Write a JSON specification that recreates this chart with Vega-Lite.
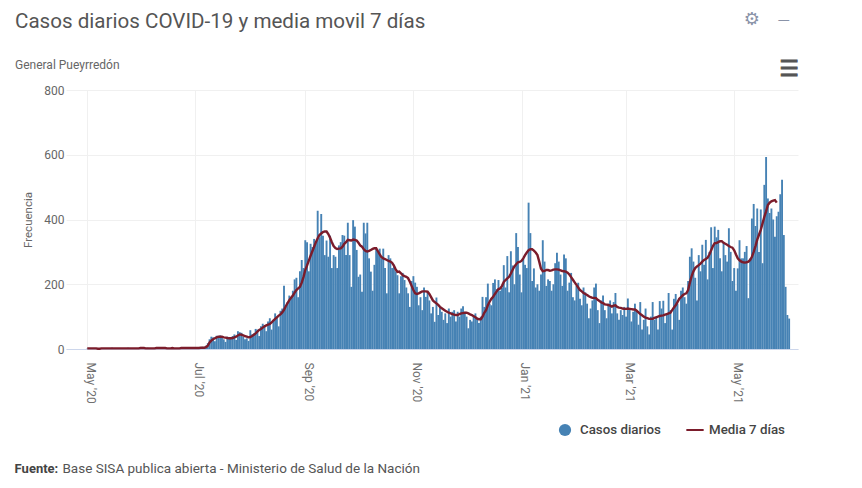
{
  "$schema": "https://vega.github.io/schema/vega-lite/v6.json",
  "autosize": {"type": "none"},
  "width": 732,
  "height": 259,
  "padding": {"left": 66, "top": 90, "right": 64, "bottom": 139},
  "background": "white",
  "title": {
    "text": "Casos diarios COVID-19 y media movil 7 días",
    "subtitle": "General Pueyrredón",
    "anchor": "start",
    "frame": "group",
    "dx": -51,
    "dy": 78,
    "offset": 18,
    "font": "Roboto",
    "fontSize": 20.6,
    "fontWeight": "normal",
    "color": "#555555",
    "subtitleFont": "Roboto",
    "subtitleFontSize": 12,
    "subtitleColor": "#666666",
    "subtitlePadding": 27
  },
  "config": {"view": {"stroke": null}, "font": "Roboto"},
  "data": {"values": [
    {"fecha":"2020-05-01","casos":1,"media":2},{"fecha":"2020-05-02","casos":0,"media":2},{"fecha":"2020-05-03","casos":2,"media":2},{"fecha":"2020-05-04","casos":1,"media":2},{"fecha":"2020-05-05","casos":3,"media":2},{"fecha":"2020-05-06","casos":1,"media":2},{"fecha":"2020-05-07","casos":0,"media":1},
    {"fecha":"2020-05-08","casos":2,"media":1},{"fecha":"2020-05-09","casos":3,"media":2},{"fecha":"2020-05-10","casos":1,"media":2},{"fecha":"2020-05-11","casos":2,"media":2},{"fecha":"2020-05-12","casos":1,"media":2},{"fecha":"2020-05-13","casos":0,"media":2},{"fecha":"2020-05-14","casos":1,"media":2},
    {"fecha":"2020-05-15","casos":4,"media":2},{"fecha":"2020-05-16","casos":2,"media":2},{"fecha":"2020-05-17","casos":3,"media":2},{"fecha":"2020-05-18","casos":1,"media":2},{"fecha":"2020-05-19","casos":0,"media":2},{"fecha":"2020-05-20","casos":2,"media":2},{"fecha":"2020-05-21","casos":1,"media":2},
    {"fecha":"2020-05-22","casos":3,"media":2},{"fecha":"2020-05-23","casos":2,"media":2},{"fecha":"2020-05-24","casos":4,"media":2},{"fecha":"2020-05-25","casos":1,"media":2},{"fecha":"2020-05-26","casos":0,"media":2},{"fecha":"2020-05-27","casos":2,"media":2},{"fecha":"2020-05-28","casos":3,"media":2},
    {"fecha":"2020-05-29","casos":1,"media":2},{"fecha":"2020-05-30","casos":2,"media":2},{"fecha":"2020-05-31","casos":4,"media":3},
    {"fecha":"2020-06-01","casos":3,"media":3},{"fecha":"2020-06-02","casos":2,"media":3},{"fecha":"2020-06-03","casos":1,"media":2},{"fecha":"2020-06-04","casos":4,"media":2},{"fecha":"2020-06-05","casos":2,"media":2},{"fecha":"2020-06-06","casos":0,"media":2},{"fecha":"2020-06-07","casos":3,"media":2},
    {"fecha":"2020-06-08","casos":2,"media":2},{"fecha":"2020-06-09","casos":5,"media":3},{"fecha":"2020-06-10","casos":3,"media":3},{"fecha":"2020-06-11","casos":1,"media":3},{"fecha":"2020-06-12","casos":2,"media":3},{"fecha":"2020-06-13","casos":4,"media":3},{"fecha":"2020-06-14","casos":2,"media":3},
    {"fecha":"2020-06-15","casos":1,"media":2},{"fecha":"2020-06-16","casos":3,"media":2},{"fecha":"2020-06-17","casos":2,"media":2},{"fecha":"2020-06-18","casos":4,"media":3},{"fecha":"2020-06-19","casos":1,"media":2},{"fecha":"2020-06-20","casos":0,"media":2},{"fecha":"2020-06-21","casos":3,"media":2},
    {"fecha":"2020-06-22","casos":2,"media":2},{"fecha":"2020-06-23","casos":5,"media":3},{"fecha":"2020-06-24","casos":3,"media":3},{"fecha":"2020-06-25","casos":1,"media":3},{"fecha":"2020-06-26","casos":4,"media":3},{"fecha":"2020-06-27","casos":2,"media":3},{"fecha":"2020-06-28","casos":6,"media":3},
    {"fecha":"2020-06-29","casos":3,"media":3},{"fecha":"2020-06-30","casos":2,"media":3},
    {"fecha":"2020-07-01","casos":4,"media":3},{"fecha":"2020-07-02","casos":3,"media":3},{"fecha":"2020-07-03","casos":2,"media":3},{"fecha":"2020-07-04","casos":5,"media":4},{"fecha":"2020-07-05","casos":7,"media":4},{"fecha":"2020-07-06","casos":5,"media":4},{"fecha":"2020-07-07","casos":10,"media":6},
    {"fecha":"2020-07-08","casos":18,"media":10},{"fecha":"2020-07-09","casos":30,"media":20},{"fecha":"2020-07-10","casos":38,"media":26},{"fecha":"2020-07-11","casos":36,"media":30},{"fecha":"2020-07-12","casos":24,"media":33},{"fecha":"2020-07-13","casos":41,"media":36},{"fecha":"2020-07-14","casos":40,"media":38},
    {"fecha":"2020-07-15","casos":42,"media":38},{"fecha":"2020-07-16","casos":35,"media":38},{"fecha":"2020-07-17","casos":30,"media":36},{"fecha":"2020-07-18","casos":22,"media":35},{"fecha":"2020-07-19","casos":38,"media":34},{"fecha":"2020-07-20","casos":35,"media":33},{"fecha":"2020-07-21","casos":32,"media":33},
    {"fecha":"2020-07-22","casos":40,"media":34},{"fecha":"2020-07-23","casos":45,"media":36},{"fecha":"2020-07-24","casos":28,"media":38},{"fecha":"2020-07-25","casos":55,"media":42},{"fecha":"2020-07-26","casos":52,"media":45},{"fecha":"2020-07-27","casos":50,"media":44},{"fecha":"2020-07-28","casos":38,"media":42},
    {"fecha":"2020-07-29","casos":30,"media":40},{"fecha":"2020-07-30","casos":33,"media":38},{"fecha":"2020-07-31","casos":25,"media":36},
    {"fecha":"2020-08-01","casos":58,"media":37},{"fecha":"2020-08-02","casos":45,"media":40},{"fecha":"2020-08-03","casos":48,"media":44},{"fecha":"2020-08-04","casos":62,"media":48},{"fecha":"2020-08-05","casos":60,"media":54},{"fecha":"2020-08-06","casos":40,"media":59},{"fecha":"2020-08-07","casos":70,"media":62},
    {"fecha":"2020-08-08","casos":78,"media":66},{"fecha":"2020-08-09","casos":72,"media":70},{"fecha":"2020-08-10","casos":55,"media":73},{"fecha":"2020-08-11","casos":85,"media":75},{"fecha":"2020-08-12","casos":95,"media":77},{"fecha":"2020-08-13","casos":60,"media":82},{"fecha":"2020-08-14","casos":90,"media":88},
    {"fecha":"2020-08-15","casos":110,"media":93},{"fecha":"2020-08-16","casos":100,"media":98},{"fecha":"2020-08-17","casos":70,"media":103},{"fecha":"2020-08-18","casos":118,"media":107},{"fecha":"2020-08-19","casos":125,"media":113},{"fecha":"2020-08-20","casos":195,"media":121},{"fecha":"2020-08-21","casos":130,"media":132},
    {"fecha":"2020-08-22","casos":145,"media":142},{"fecha":"2020-08-23","casos":165,"media":151},{"fecha":"2020-08-24","casos":160,"media":158},{"fecha":"2020-08-25","casos":180,"media":165},{"fecha":"2020-08-26","casos":215,"media":174},{"fecha":"2020-08-27","casos":220,"media":182},{"fecha":"2020-08-28","casos":160,"media":187},
    {"fecha":"2020-08-29","casos":240,"media":192},{"fecha":"2020-08-30","casos":275,"media":205},{"fecha":"2020-08-31","casos":250,"media":222},
    {"fecha":"2020-09-01","casos":336,"media":244},{"fecha":"2020-09-02","casos":330,"media":258},{"fecha":"2020-09-03","casos":240,"media":273},{"fecha":"2020-09-04","casos":325,"media":288},{"fecha":"2020-09-05","casos":315,"media":302},{"fecha":"2020-09-06","casos":340,"media":316},{"fecha":"2020-09-07","casos":330,"media":330},
    {"fecha":"2020-09-08","casos":427,"media":342},{"fecha":"2020-09-09","casos":345,"media":352},{"fecha":"2020-09-10","casos":417,"media":357},{"fecha":"2020-09-11","casos":350,"media":361},{"fecha":"2020-09-12","casos":290,"media":363},{"fecha":"2020-09-13","casos":335,"media":363},{"fecha":"2020-09-14","casos":285,"media":355},
    {"fecha":"2020-09-15","casos":350,"media":344},{"fecha":"2020-09-16","casos":250,"media":330},{"fecha":"2020-09-17","casos":290,"media":318},{"fecha":"2020-09-18","casos":285,"media":312},{"fecha":"2020-09-19","casos":250,"media":309},{"fecha":"2020-09-20","casos":320,"media":310},{"fecha":"2020-09-21","casos":330,"media":311},
    {"fecha":"2020-09-22","casos":352,"media":316},{"fecha":"2020-09-23","casos":350,"media":325},{"fecha":"2020-09-24","casos":290,"media":330},{"fecha":"2020-09-25","casos":390,"media":337},{"fecha":"2020-09-26","casos":290,"media":336},{"fecha":"2020-09-27","casos":192,"media":335},{"fecha":"2020-09-28","casos":398,"media":338},
    {"fecha":"2020-09-29","casos":378,"media":337},{"fecha":"2020-09-30","casos":306,"media":335},
    {"fecha":"2020-10-01","casos":223,"media":328},{"fecha":"2020-10-02","casos":230,"media":320},{"fecha":"2020-10-03","casos":177,"media":316},{"fecha":"2020-10-04","casos":390,"media":308},{"fecha":"2020-10-05","casos":357,"media":303},{"fecha":"2020-10-06","casos":390,"media":301},{"fecha":"2020-10-07","casos":280,"media":303},
    {"fecha":"2020-10-08","casos":239,"media":306},{"fecha":"2020-10-09","casos":180,"media":309},{"fecha":"2020-10-10","casos":260,"media":311},{"fecha":"2020-10-11","casos":310,"media":311},{"fecha":"2020-10-12","casos":300,"media":302},{"fecha":"2020-10-13","casos":310,"media":292},{"fecha":"2020-10-14","casos":280,"media":284},
    {"fecha":"2020-10-15","casos":310,"media":280},{"fecha":"2020-10-16","casos":250,"media":278},{"fecha":"2020-10-17","casos":172,"media":275},{"fecha":"2020-10-18","casos":290,"media":272},{"fecha":"2020-10-19","casos":280,"media":270},{"fecha":"2020-10-20","casos":250,"media":266},{"fecha":"2020-10-21","casos":260,"media":258},
    {"fecha":"2020-10-22","casos":240,"media":246},{"fecha":"2020-10-23","casos":228,"media":238},{"fecha":"2020-10-24","casos":172,"media":239},{"fecha":"2020-10-25","casos":225,"media":234},{"fecha":"2020-10-26","casos":235,"media":228},{"fecha":"2020-10-27","casos":213,"media":225},{"fecha":"2020-10-28","casos":190,"media":223},
    {"fecha":"2020-10-29","casos":172,"media":219},{"fecha":"2020-10-30","casos":130,"media":208},{"fecha":"2020-10-31","casos":210,"media":195},
    {"fecha":"2020-11-01","casos":225,"media":182},{"fecha":"2020-11-02","casos":205,"media":172},{"fecha":"2020-11-03","casos":192,"media":170},{"fecha":"2020-11-04","casos":135,"media":172},{"fecha":"2020-11-05","casos":160,"media":175},{"fecha":"2020-11-06","casos":120,"media":178},{"fecha":"2020-11-07","casos":190,"media":178},
    {"fecha":"2020-11-08","casos":161,"media":178},{"fecha":"2020-11-09","casos":175,"media":177},{"fecha":"2020-11-10","casos":150,"media":170},{"fecha":"2020-11-11","casos":110,"media":160},{"fecha":"2020-11-12","casos":130,"media":150},{"fecha":"2020-11-13","casos":84,"media":145},{"fecha":"2020-11-14","casos":159,"media":141},
    {"fecha":"2020-11-15","casos":105,"media":136},{"fecha":"2020-11-16","casos":130,"media":130},{"fecha":"2020-11-17","casos":115,"media":126},{"fecha":"2020-11-18","casos":90,"media":122},{"fecha":"2020-11-19","casos":110,"media":118},{"fecha":"2020-11-20","casos":80,"media":115},{"fecha":"2020-11-21","casos":125,"media":112},
    {"fecha":"2020-11-22","casos":100,"media":110},{"fecha":"2020-11-23","casos":115,"media":108},{"fecha":"2020-11-24","casos":120,"media":106},{"fecha":"2020-11-25","casos":85,"media":105},{"fecha":"2020-11-26","casos":115,"media":105},{"fecha":"2020-11-27","casos":100,"media":108},{"fecha":"2020-11-28","casos":125,"media":110},
    {"fecha":"2020-11-29","casos":132,"media":111},{"fecha":"2020-11-30","casos":115,"media":112},
    {"fecha":"2020-12-01","casos":100,"media":112},{"fecha":"2020-12-02","casos":64,"media":110},{"fecha":"2020-12-03","casos":90,"media":107},{"fecha":"2020-12-04","casos":85,"media":105},{"fecha":"2020-12-05","casos":105,"media":101},{"fecha":"2020-12-06","casos":110,"media":98},{"fecha":"2020-12-07","casos":95,"media":94},
    {"fecha":"2020-12-08","casos":80,"media":92},{"fecha":"2020-12-09","casos":100,"media":92},{"fecha":"2020-12-10","casos":161,"media":100},{"fecha":"2020-12-11","casos":130,"media":112},{"fecha":"2020-12-12","casos":160,"media":120},{"fecha":"2020-12-13","casos":202,"media":135},{"fecha":"2020-12-14","casos":140,"media":146},
    {"fecha":"2020-12-15","casos":135,"media":155},{"fecha":"2020-12-16","casos":204,"media":161},{"fecha":"2020-12-17","casos":215,"media":170},{"fecha":"2020-12-18","casos":185,"media":178},{"fecha":"2020-12-19","casos":213,"media":185},{"fecha":"2020-12-20","casos":180,"media":187},{"fecha":"2020-12-21","casos":190,"media":195},
    {"fecha":"2020-12-22","casos":259,"media":207},{"fecha":"2020-12-23","casos":190,"media":213},{"fecha":"2020-12-24","casos":287,"media":218},{"fecha":"2020-12-25","casos":175,"media":223},{"fecha":"2020-12-26","casos":302,"media":233},{"fecha":"2020-12-27","casos":258,"media":245},{"fecha":"2020-12-28","casos":200,"media":255},
    {"fecha":"2020-12-29","casos":358,"media":262},{"fecha":"2020-12-30","casos":315,"media":268},{"fecha":"2020-12-31","casos":230,"media":269},
    {"fecha":"2021-01-01","casos":175,"media":272},{"fecha":"2021-01-02","casos":280,"media":280},{"fecha":"2021-01-03","casos":260,"media":290},{"fecha":"2021-01-04","casos":250,"media":298},{"fecha":"2021-01-05","casos":452,"media":305},{"fecha":"2021-01-06","casos":358,"media":308},{"fecha":"2021-01-07","casos":210,"media":308},
    {"fecha":"2021-01-08","casos":249,"media":304},{"fecha":"2021-01-09","casos":190,"media":298},{"fecha":"2021-01-10","casos":200,"media":290},{"fecha":"2021-01-11","casos":180,"media":270},{"fecha":"2021-01-12","casos":230,"media":248},{"fecha":"2021-01-13","casos":336,"media":240},{"fecha":"2021-01-14","casos":270,"media":241},
    {"fecha":"2021-01-15","casos":195,"media":244},{"fecha":"2021-01-16","casos":215,"media":244},{"fecha":"2021-01-17","casos":210,"media":242},{"fecha":"2021-01-18","casos":180,"media":243},{"fecha":"2021-01-19","casos":200,"media":245},{"fecha":"2021-01-20","casos":265,"media":246},{"fecha":"2021-01-21","casos":297,"media":246},
    {"fecha":"2021-01-22","casos":270,"media":245},{"fecha":"2021-01-23","casos":230,"media":243},{"fecha":"2021-01-24","casos":195,"media":241},{"fecha":"2021-01-25","casos":292,"media":240},{"fecha":"2021-01-26","casos":280,"media":239},{"fecha":"2021-01-27","casos":180,"media":236},{"fecha":"2021-01-28","casos":205,"media":230},
    {"fecha":"2021-01-29","casos":235,"media":222},{"fecha":"2021-01-30","casos":160,"media":214},{"fecha":"2021-01-31","casos":150,"media":206},
    {"fecha":"2021-02-01","casos":195,"media":198},{"fecha":"2021-02-02","casos":205,"media":190},{"fecha":"2021-02-03","casos":155,"media":182},{"fecha":"2021-02-04","casos":135,"media":178},{"fecha":"2021-02-05","casos":190,"media":173},{"fecha":"2021-02-06","casos":175,"media":170},{"fecha":"2021-02-07","casos":140,"media":167},
    {"fecha":"2021-02-08","casos":95,"media":163},{"fecha":"2021-02-09","casos":125,"media":160},{"fecha":"2021-02-10","casos":150,"media":158},{"fecha":"2021-02-11","casos":190,"media":158},{"fecha":"2021-02-12","casos":202,"media":157},{"fecha":"2021-02-13","casos":120,"media":152},{"fecha":"2021-02-14","casos":80,"media":148},
    {"fecha":"2021-02-15","casos":150,"media":144},{"fecha":"2021-02-16","casos":165,"media":142},{"fecha":"2021-02-17","casos":120,"media":138},{"fecha":"2021-02-18","casos":95,"media":137},{"fecha":"2021-02-19","casos":140,"media":136},{"fecha":"2021-02-20","casos":150,"media":134},{"fecha":"2021-02-21","casos":110,"media":131},
    {"fecha":"2021-02-22","casos":145,"media":134},{"fecha":"2021-02-23","casos":173,"media":135},{"fecha":"2021-02-24","casos":110,"media":130},{"fecha":"2021-02-25","casos":90,"media":128},{"fecha":"2021-02-26","casos":120,"media":127},{"fecha":"2021-02-27","casos":105,"media":125},{"fecha":"2021-02-28","casos":130,"media":124},
    {"fecha":"2021-03-01","casos":100,"media":124},{"fecha":"2021-03-02","casos":156,"media":125},{"fecha":"2021-03-03","casos":125,"media":124},{"fecha":"2021-03-04","casos":85,"media":123},{"fecha":"2021-03-05","casos":115,"media":122},{"fecha":"2021-03-06","casos":140,"media":122},{"fecha":"2021-03-07","casos":120,"media":118},
    {"fecha":"2021-03-08","casos":75,"media":113},{"fecha":"2021-03-09","casos":145,"media":108},{"fecha":"2021-03-10","casos":60,"media":104},{"fecha":"2021-03-11","casos":90,"media":100},{"fecha":"2021-03-12","casos":125,"media":97},{"fecha":"2021-03-13","casos":70,"media":95},{"fecha":"2021-03-14","casos":45,"media":93},
    {"fecha":"2021-03-15","casos":100,"media":93},{"fecha":"2021-03-16","casos":145,"media":93},{"fecha":"2021-03-17","casos":90,"media":96},{"fecha":"2021-03-18","casos":100,"media":98},{"fecha":"2021-03-19","casos":60,"media":100},{"fecha":"2021-03-20","casos":148,"media":102},{"fecha":"2021-03-21","casos":125,"media":103},
    {"fecha":"2021-03-22","casos":149,"media":104},{"fecha":"2021-03-23","casos":80,"media":106},{"fecha":"2021-03-24","casos":110,"media":108},{"fecha":"2021-03-25","casos":173,"media":110},{"fecha":"2021-03-26","casos":120,"media":112},{"fecha":"2021-03-27","casos":60,"media":120},{"fecha":"2021-03-28","casos":155,"media":128},
    {"fecha":"2021-03-29","casos":170,"media":135},{"fecha":"2021-03-30","casos":140,"media":145},{"fecha":"2021-03-31","casos":90,"media":155},
    {"fecha":"2021-04-01","casos":180,"media":160},{"fecha":"2021-04-02","casos":190,"media":166},{"fecha":"2021-04-03","casos":160,"media":170},{"fecha":"2021-04-04","casos":140,"media":172},{"fecha":"2021-04-05","casos":210,"media":182},{"fecha":"2021-04-06","casos":285,"media":205},{"fecha":"2021-04-07","casos":311,"media":225},
    {"fecha":"2021-04-08","casos":270,"media":240},{"fecha":"2021-04-09","casos":220,"media":250},{"fecha":"2021-04-10","casos":150,"media":255},{"fecha":"2021-04-11","casos":290,"media":259},{"fecha":"2021-04-12","casos":240,"media":264},{"fecha":"2021-04-13","casos":322,"media":270},{"fecha":"2021-04-14","casos":260,"media":275},
    {"fecha":"2021-04-15","casos":337,"media":278},{"fecha":"2021-04-16","casos":215,"media":282},{"fecha":"2021-04-17","casos":300,"media":292},{"fecha":"2021-04-18","casos":376,"media":305},{"fecha":"2021-04-19","casos":250,"media":318},{"fecha":"2021-04-20","casos":378,"media":327},{"fecha":"2021-04-21","casos":345,"media":327},
    {"fecha":"2021-04-22","casos":368,"media":330},{"fecha":"2021-04-23","casos":280,"media":333},{"fecha":"2021-04-24","casos":240,"media":333},{"fecha":"2021-04-25","casos":330,"media":328},{"fecha":"2021-04-26","casos":290,"media":325},{"fecha":"2021-04-27","casos":270,"media":322},{"fecha":"2021-04-28","casos":373,"media":318},
    {"fecha":"2021-04-29","casos":300,"media":315},{"fecha":"2021-04-30","casos":210,"media":313},
    {"fecha":"2021-05-01","casos":250,"media":305},{"fecha":"2021-05-02","casos":180,"media":292},{"fecha":"2021-05-03","casos":249,"media":280},{"fecha":"2021-05-04","casos":336,"media":274},{"fecha":"2021-05-05","casos":280,"media":270},{"fecha":"2021-05-06","casos":280,"media":268},{"fecha":"2021-05-07","casos":300,"media":267},
    {"fecha":"2021-05-08","casos":318,"media":268},{"fecha":"2021-05-09","casos":157,"media":270},{"fecha":"2021-05-10","casos":280,"media":275},{"fecha":"2021-05-11","casos":403,"media":285},{"fecha":"2021-05-12","casos":448,"media":300},{"fecha":"2021-05-13","casos":380,"media":318},{"fecha":"2021-05-14","casos":434,"media":338},
    {"fecha":"2021-05-15","casos":300,"media":353},{"fecha":"2021-05-16","casos":431,"media":368},{"fecha":"2021-05-17","casos":265,"media":388},{"fecha":"2021-05-18","casos":507,"media":408},{"fecha":"2021-05-19","casos":593,"media":425},{"fecha":"2021-05-20","casos":465,"media":445},{"fecha":"2021-05-21","casos":420,"media":452},
    {"fecha":"2021-05-22","casos":434,"media":456},{"fecha":"2021-05-23","casos":400,"media":458},{"fecha":"2021-05-24","casos":347,"media":460},{"fecha":"2021-05-25","casos":410,"media":452},{"fecha":"2021-05-26","casos":424},{"fecha":"2021-05-27","casos":478},{"fecha":"2021-05-28","casos":523},
    {"fecha":"2021-05-29","casos":352},{"fecha":"2021-05-30","casos":192},{"fecha":"2021-05-31","casos":105},{"fecha":"2021-06-01","casos":94}
  ]},
  "layer": [
    {
      "mark": {"type": "bar", "width": 1.9},
      "encoding": {
        "x": {
          "field": "fecha",
          "type": "temporal",
          "scale": {
            "type": "utc",
            "padding": 0,
            "domain": [
              {"year": 2020, "month": 4, "date": 19, "utc": true},
              {"year": 2021, "month": 6, "date": 6, "utc": true}
            ]
          },
          "axis": {
            "values": [
              {"year": 2020, "month": 5, "date": 1, "utc": true},
              {"year": 2020, "month": 7, "date": 1, "utc": true},
              {"year": 2020, "month": 9, "date": 1, "utc": true},
              {"year": 2020, "month": 11, "date": 1, "utc": true},
              {"year": 2021, "month": 1, "date": 1, "utc": true},
              {"year": 2021, "month": 3, "date": 1, "utc": true},
              {"year": 2021, "month": 5, "date": 1, "utc": true}
            ],
            "labelExpr": "utcFormat(datum.value, \"%b '%y\")",
            "title": null,
            "labelAngle": 90,
            "labelAlign": "left",
            "labelBaseline": "middle",
            "labelPadding": 13,
            "labelOffset": 3,
            "labelFont": "Roboto",
            "labelFontSize": 12,
            "labelColor": "#707070",
            "grid": true,
            "gridColor": "#f0f0f0",
            "ticks": false,
            "domain": true,
            "domainColor": "#ccd6eb"
          }
        },
        "y": {
          "field": "casos",
          "type": "quantitative",
          "scale": {"domain": [0, 800], "nice": false},
          "axis": {
            "values": [0, 200, 400, 600, 800],
            "title": "Frecuencia",
            "titleFont": "Roboto",
            "titleFontSize": 11.5,
            "titleFontWeight": "normal",
            "titleColor": "#666666",
            "titlePadding": 10,
            "labelFont": "Roboto",
            "labelFontSize": 12,
            "labelColor": "#666666",
            "labelPadding": 2,
            "grid": true,
            "gridColor": "#f0f0f0",
            "ticks": false,
            "domain": false
          }
        },
        "color": {
          "datum": "Casos diarios",
          "scale": {"range": ["#4682b4"]},
          "legend": {
            "title": null,
            "orient": "none",
            "legendX": 492,
            "legendY": 333,
            "symbolType": "circle",
            "symbolSize": 150,
            "symbolOpacity": 1,
            "labelOffset": 8,
            "labelFont": "Roboto",
            "labelFontSize": 13.3,
            "labelFontWeight": 500,
            "labelColor": "#444444"
          }
        }
      }
    },
    {
      "mark": {"type": "line", "strokeWidth": 2.4},
      "encoding": {
        "x": {"field": "fecha", "type": "temporal"},
        "y": {"field": "media", "type": "quantitative"},
        "stroke": {
          "datum": "Media 7 días",
          "scale": {"range": ["#7b1c2b"]},
          "legend": {
            "title": null,
            "orient": "none",
            "legendX": 619,
            "legendY": 330,
            "symbolType": "stroke",
            "symbolSize": 300,
            "symbolStrokeWidth": 2,
            "labelFont": "Roboto",
            "labelFontSize": 13.3,
            "labelFontWeight": 500,
            "labelColor": "#444444"
          }
        }
      }
    },
    {
      "data": {"values": [{}]},
      "mark": {"type": "text", "text": "Fuente:", "font": "Roboto", "fontSize": 13, "fontWeight": "bold", "color": "#444444", "align": "left"},
      "encoding": {
        "x": {"datum": {"year": 2020, "month": 3, "date": 21, "utc": true}, "type": "temporal"},
        "y": {"datum": -370, "type": "quantitative"}
      }
    },
    {
      "data": {"values": [{}]},
      "mark": {"type": "text", "text": "Base SISA publica abierta - Ministerio de Salud de la Nación", "font": "Roboto", "fontSize": 13.5, "color": "#555555", "align": "left"},
      "encoding": {
        "x": {"datum": {"year": 2020, "month": 4, "date": 17, "utc": true}, "type": "temporal"},
        "y": {"datum": -370, "type": "quantitative"}
      }
    },
    {
      "data": {"values": [{}]},
      "mark": {"type": "text", "text": "☰", "font": "DejaVu Sans", "fontSize": 22, "stroke": "#555555", "strokeWidth": 0.8, "color": "#555555"},
      "encoding": {
        "x": {"datum": {"year": 2021, "month": 6, "date": 1, "utc": true}, "type": "temporal"},
        "y": {"datum": 865, "type": "quantitative"}
      }
    },
    {
      "data": {"values": [{}]},
      "mark": {"type": "text", "text": "⚙", "font": "DejaVu Sans", "fontSize": 18, "color": "#8a93a8"},
      "encoding": {
        "x": {"datum": {"year": 2021, "month": 5, "date": 11, "utc": true}, "type": "temporal"},
        "y": {"datum": 1016, "type": "quantitative"}
      }
    },
    {
      "data": {"values": [{}]},
      "mark": {"type": "text", "text": "—", "font": "DejaVu Sans", "fontSize": 12, "color": "#8a93a8"},
      "encoding": {
        "x": {"datum": {"year": 2021, "month": 5, "date": 29, "utc": true}, "type": "temporal"},
        "y": {"datum": 1016, "type": "quantitative"}
      }
    }
  ]
}
